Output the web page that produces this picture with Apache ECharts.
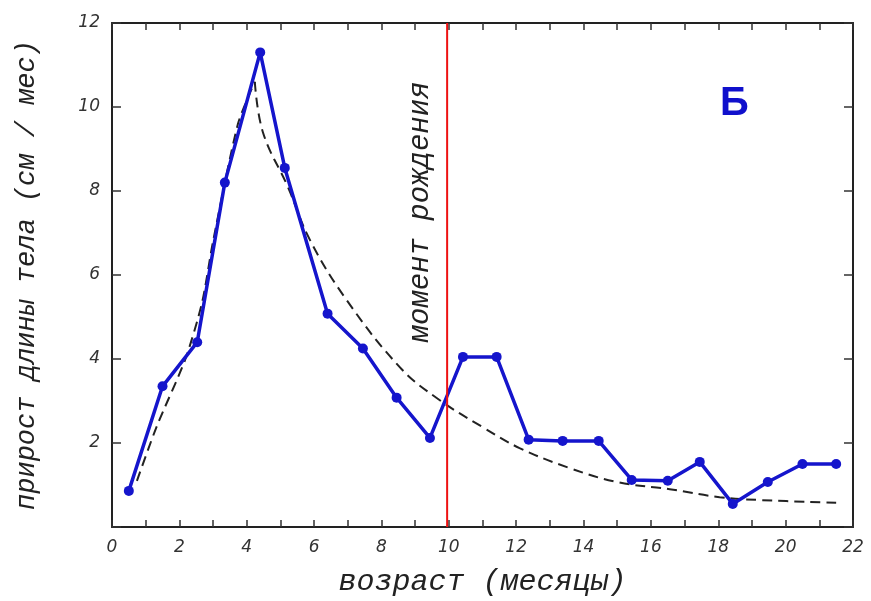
<!DOCTYPE html>
<html><head><meta charset="utf-8">
<script src="https://cdn.jsdelivr.net/npm/echarts@6/dist/echarts.min.js"></script>
<style>html,body{margin:0;padding:0;background:#fff;overflow:hidden}#c{width:871px;height:601px}</style>
</head><body><div id="c"></div>
<script>
// Measured growth (x = age in months, y = cm/month)
const ageMonths = [0.5,1.5,2.53,3.35,4.4,5.13,6.4,7.45,8.45,9.44,10.42,11.42,12.37,13.38,14.45,15.43,16.5,17.45,18.43,19.47,20.5,21.5];
const growthRate = [0.86,3.35,4.4,8.2,11.3,8.55,5.08,4.25,3.08,2.12,4.05,4.05,2.08,2.05,2.05,1.12,1.1,1.55,0.55,1.07,1.5,1.5];
// Smoothed trend (dashed curve)
const trendAge = [0.74,1.33,2.17,2.67,3.0,3.74,4.24,4.48,5.22,5.88,6.97,8.55,9.64,11.0,12.1,13.6,15.0,16.56,18.04,19.3,21.5];
const trendRate = [1.1,2.4,3.98,5.33,6.8,9.6,10.6,9.4,8.1,6.83,5.4,3.8,3.07,2.38,1.88,1.4,1.07,0.9,0.71,0.64,0.58];
const birthMonth = 9.95;
const xTicks = [0,2,4,6,8,10,12,14,16,18,20,22];
const yTicks = [0,2,4,6,8,10,12];
const xName = 'возраст (месяцы)';
const yName = 'прирост длины тела (см / мес)';
const birthLabel = 'момент рождения';
const panelLabel = 'Б';

const trendPts = trendAge.map((a,i)=>[a,trendRate[i]]);
const peakIdx = trendRate.indexOf(Math.max(...trendRate));

const chart = echarts.init(document.getElementById('c'));
const lblStyle = {fontStyle:'italic', fontFamily:'DejaVu Sans', fontSize:17, color:'#333'};
const nameStyle = {fontStyle:'italic', fontFamily:'Liberation Mono', color:'#222'};
const axLine = {show:true, onZero:false, lineStyle:{color:'#222', width:2}};
const tick = {show:true, inside:true, length:7, lineStyle:{color:'#333', width:1.5}};
const dash = {color:'#222', width:2, type:[10,6]};
chart.setOption({
  animation:false,
  grid:{left:112, width:741, top:23, height:504, outerBoundsMode:'none', containLabel:false},
  xAxis:[
    {type:'value', min:0, max:22, interval:1, position:'bottom',
     axisLine:axLine, axisTick:tick,
     axisLabel:{...lblStyle, margin:12, formatter:v=> xTicks.includes(v)? String(v):''},
     splitLine:{show:false},
     name:xName, nameLocation:'middle', nameGap:40, nameTextStyle:{...nameStyle, fontSize:30}},
    {type:'value', min:0, max:22, interval:1, position:'top',
     axisLine:axLine, axisTick:tick,
     axisLabel:{show:false}, splitLine:{show:false}}
  ],
  yAxis:[
    {type:'value', min:0, max:12, interval:2, position:'left',
     axisLine:axLine, axisTick:{...tick, length:9},
     axisLabel:{...lblStyle, margin:12, formatter:v=> yTicks.includes(v) && v>0 ? String(v):''},
     splitLine:{show:false},
     name:yName, nameLocation:'middle', nameGap:72, nameTextStyle:{...nameStyle, fontSize:27}},
    {type:'value', min:0, max:12, interval:2, position:'right',
     axisLine:axLine, axisTick:{...tick, length:9},
     axisLabel:{show:false}, splitLine:{show:false}}
  ],
  series:[
    {type:'line', data:trendPts.slice(0,peakIdx+1), smooth:0.25, symbol:'none', lineStyle:dash, z:2},
    {type:'line', data:trendPts.slice(peakIdx), smooth:0.4, symbol:'none', lineStyle:dash, z:2},
    {type:'line', data:ageMonths.map((a,i)=>[a,growthRate[i]]), symbol:'circle', symbolSize:10,
     lineStyle:{color:'#1515cc', width:3.5}, itemStyle:{color:'#1515cc'}, z:3},
    {type:'line', data:[[birthMonth,0],[birthMonth,12]], symbol:'none',
     lineStyle:{color:'#ee1111', width:2}, z:4}
  ],
  graphic:[
    {type:'text', left:720, top:84, style:{text:panelLabel, font:'bold 40px "Liberation Sans"', fill:'#1010cc'}},
    {type:'text', x:420, y:212, rotation:Math.PI/2,
     style:{text:birthLabel, font:'italic 29px "Liberation Mono"', fill:'#222', align:'center', verticalAlign:'middle'}}
  ]
});
</script></body></html>
